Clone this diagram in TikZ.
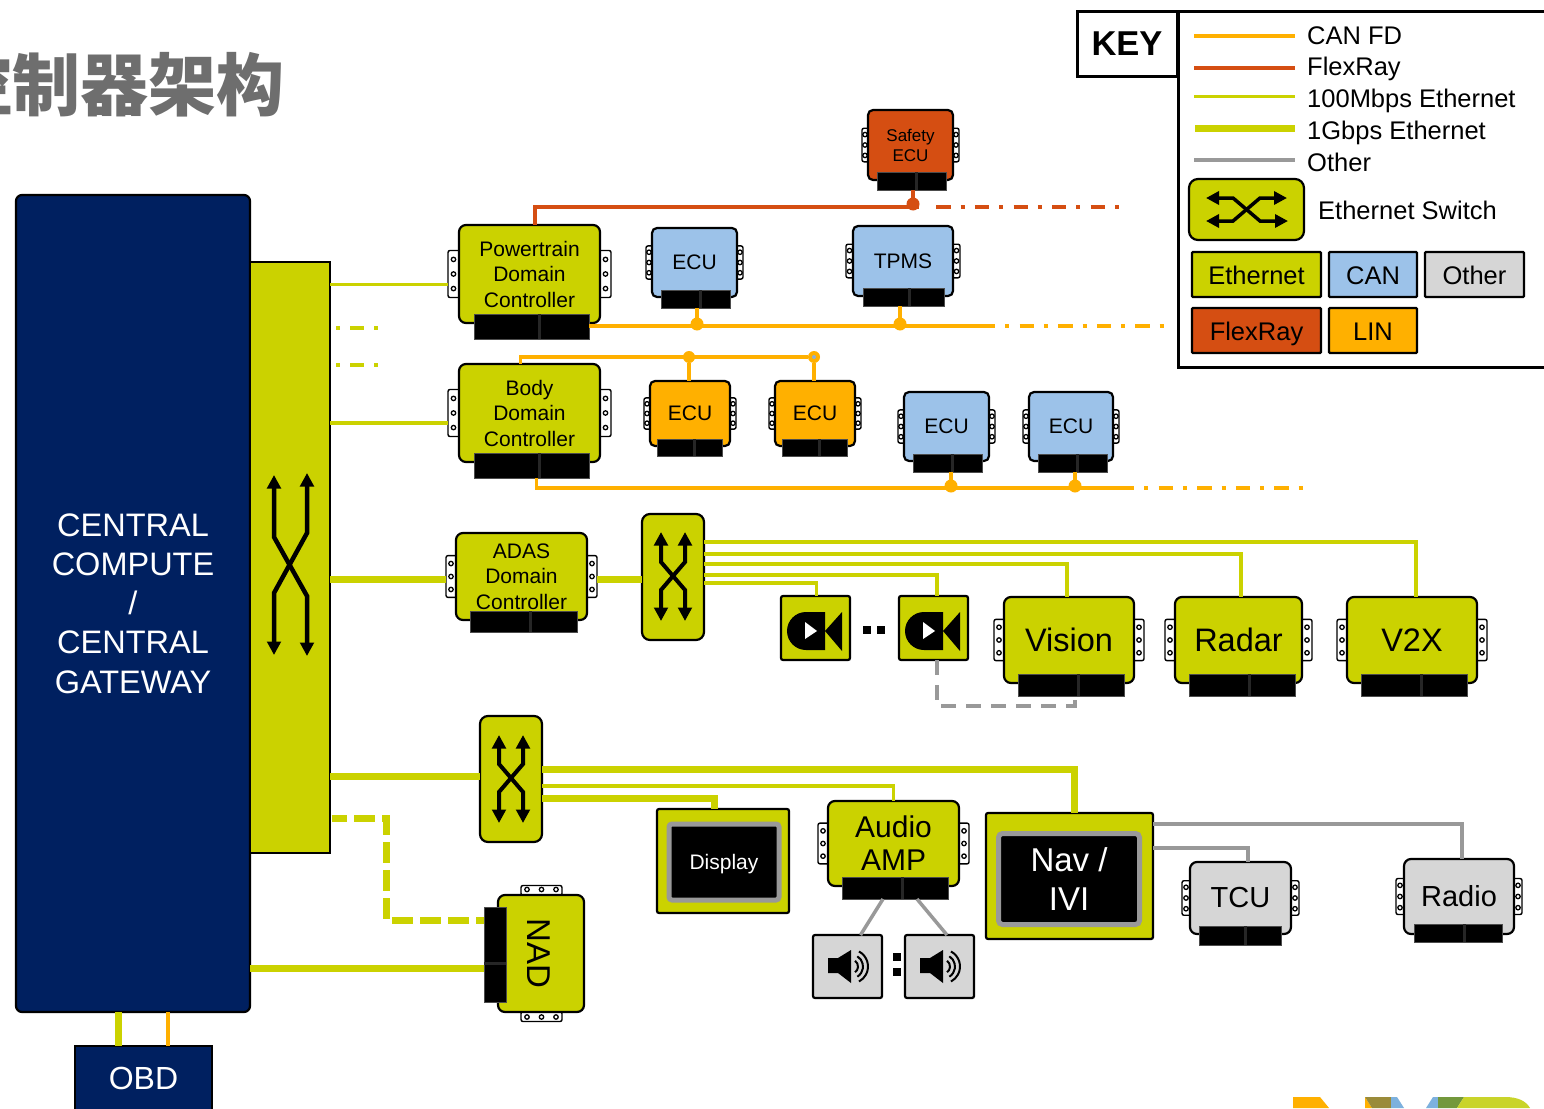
\documentclass[tikz,border=0pt]{standalone}
\usepackage{fontspec}
\setmainfont{Liberation Sans}
\newfontfamily\cjkfont{Noto Sans CJK SC}
\usetikzlibrary{arrows.meta,calc}
\definecolor{lime}{HTML}{CBD200}
\definecolor{canfd}{HTML}{FFB000}
\definecolor{flex}{HTML}{D54E12}
\definecolor{canblue}{HTML}{9CC2E9}
\definecolor{lgray}{HTML}{D6D6D6}
\definecolor{wire}{HTML}{999999}
\definecolor{navy}{HTML}{002060}
\definecolor{logob}{HTML}{9A8B3A}
\definecolor{logoc}{HTML}{7DB1DE}
\definecolor{logod}{HTML}{73983C}
\definecolor{logoe}{HTML}{C9D42A}
\newcommand\fsz[2]{\fontsize{#1}{#2}\selectfont}
\tikzset{
  x=1pt,y=-1pt,
  outl/.style={draw=black,line width=2.2pt,outer sep=0pt,inner sep=0pt,align=center},
  tabbox/.style={draw=black,line width=1.4pt,fill=white,rounded corners=2pt,outer sep=0pt,inner sep=0pt},
  hole/.style={draw=black,line width=1.3pt,fill=white},
  plugbox/.style={fill=black,draw=black!70,line width=0.5pt,outer sep=0pt,inner sep=0pt},
  eth/.style={draw=lime,line width=3.5pt},
  gig/.style={draw=lime,line width=7pt},
  can/.style={draw=canfd,line width=3.8pt},
  frl/.style={draw=flex,line width=3.8pt},
  oth/.style={draw=wire,line width=3.5pt},
  dashdot/.style={dash pattern=on 14.3pt off 10pt on 4pt off 10.3pt},
  dotdash/.style={dash pattern=on 4pt off 10pt on 14.3pt off 10pt on 4pt off 100pt},
  candot/.style={circle,fill=canfd,minimum size=13pt,inner sep=0pt,outer sep=0pt},
  frdot/.style={circle,fill=flex,minimum size=13pt,inner sep=0pt,outer sep=0pt},
  legbox/.style={outl,font=\fsz{25.5}{30},text height=25pt,text depth=5.5pt},
  arrowline/.style={line width=4pt,draw=black,line join=miter,{Triangle[length=13.5pt,width=13.5pt]}-{Triangle[length=13.5pt,width=13.5pt]}},
  sq/.style={fill=black,minimum size=8pt,inner sep=0pt,outer sep=0pt},
}
% #1 name, #2-#5 x1 y1 x2 y2, #6 tab width, #7 fill, #8 style, #9 text
\newcommand\ecu[9]{%
  \pgfmathsetmacro\eW{#4-#2}\pgfmathsetmacro\eH{#5-#3}%
  \pgfmathsetmacro\eX{(#4+#2)/2}\pgfmathsetmacro\eY{(#5+#3)/2}%
  \pgfmathsetmacro\tH{0.48*\eH}\pgfmathsetmacro\tW{#6+5}%
  \pgfmathsetmacro\tL{#2-#6/2+2.5}\pgfmathsetmacro\tR{#4+#6/2-2.5}%
  \pgfmathsetmacro\hL{#2-#6/2}\pgfmathsetmacro\hR{#4+#6/2}%
  \pgfmathsetmacro\hS{0.31*\tH}%
  \node[tabbox,minimum width=\tW pt,minimum height=\tH pt] (#1-l) at (\tL,\eY) {};
  \node[tabbox,minimum width=\tW pt,minimum height=\tH pt] (#1-r) at (\tR,\eY) {};
  \foreach \k in {-1,0,1}{
    \draw[hole] (\hL,{\eY+\k*\hS}) circle[radius=2.2pt];
    \draw[hole] (\hR,{\eY+\k*\hS}) circle[radius=2.2pt];
  }
  \node[outl,rounded corners=7pt,fill=#7,minimum width=\eW pt,minimum height=\eH pt,#8] (#1) at (\eX,\eY) {#9};
}
\newcommand\plug[5]{%
  \pgfmathsetmacro\eW{#4-#2}\pgfmathsetmacro\eH{#5-#3}%
  \pgfmathsetmacro\eX{(#4+#2)/2}\pgfmathsetmacro\eY{(#5+#3)/2}%
  \node[plugbox,minimum width=\eW pt,minimum height=\eH pt] (#1-p) at (\eX,\eY) {};
  \fill[black!85] ({#2+0.57*\eW-1.5},#3) rectangle ({#2+0.57*\eW+1.5},#5);
}
% vertical switch glyph
\newcommand\vglyph[6]{%
  \draw[arrowline] (#1,#3) -- (#1,#4) -- (#2,#5) -- (#2,#6);
  \draw[arrowline] (#2,#3) -- (#2,#4) -- (#1,#5) -- (#1,#6);
}
\newcommand\cam[3]{%
  \node[outl,rounded corners=2pt,fill=lime,minimum width=69pt,minimum height=64pt] (#1) at ({#2+34.5},{#3+32}) {};
  \begin{scope}[shift={(#2,#3)}]
    \fill[black] (44,16) -- (25,16) .. controls (14.5,16) and (6,24.5) .. (6,35) .. controls (6,45.5) and (14.5,54) .. (25,54) -- (44,54) -- cycle;
    \fill[black] (44,35) -- (61,16) -- (61,55) -- cycle;
    \fill[white] (24,26) -- (24,43) -- (36,35) -- cycle;
  \end{scope}
}
\newcommand\spk[3]{%
  \node[outl,rounded corners=2pt,fill=lgray,minimum width=69pt,minimum height=63pt] (#1) at ({#2+34.5},{#3+31.5}) {};
  \begin{scope}[shift={(#2,#3)}]
    \fill[black] (15,23) -- (25,23) -- (38,15) -- (38,48) -- (25,38) -- (15,38) -- cycle;
    \draw[line width=2pt,black] (38,31.5) ++(-55:7) arc[start angle=-55,end angle=55,radius=7];
    \draw[line width=2pt,black] (38,31.5) ++(-58:12) arc[start angle=-58,end angle=58,radius=12];
    \draw[line width=2pt,black] (38,31.5) ++(-62:17) arc[start angle=-62,end angle=62,radius=17];
  \end{scope}
}
\begin{document}
\begin{tikzpicture}
\useasboundingbox (0,0) rectangle (1544,1108);
\fill[white] (0,0) rectangle (1544,1108);

% title
\node[anchor=east,text=black!57,inner sep=0pt,font=\cjkfont\bfseries\fsz{68}{72}] (title) at (285,85) {控制器架构};

% central
\node[outl,rounded corners=6pt,fill=navy,text=white,minimum width=234pt,minimum height=817pt,font=\fsz{32.5}{39.3}] (cc) at (133,603.5) {CENTRAL\\COMPUTE\\/\\CENTRAL\\GATEWAY};
\node[outl,fill=lime,minimum width=80pt,minimum height=591pt] (bigsw) at (290,557.5) {};
\draw[arrowline,line width=4.5pt] (274,475) -- (274,537) -- (307,596) -- (307,656);
\draw[arrowline,line width=4.5pt] (307,473) -- (307,533) -- (274,593) -- (274,655);
\node[outl,fill=navy,text=white,minimum width=137pt,minimum height=70pt,font=\fsz{32}{38}] (obd) at (143.5,1081) {\raisebox{6pt}{OBD}};
\draw[gig] (118,1012) -- (118,1046);
\draw[can,line width=3.5pt] (168,1012) -- (168,1046);

% KEY
\node[outl,line width=3pt,minimum width=100pt,minimum height=64pt,font=\bfseries\fsz{34.5}{40}] (key) at (1127,44) {KEY};
\node[outl,line width=3pt,minimum width=400pt,minimum height=355pt] (keybox) at (1378,189.5) {};
\draw[canfd,line width=4pt] (1194,36) -- (1295,36);
\draw[flex,line width=4pt] (1194,68) -- (1295,68);
\draw[lime,line width=3pt] (1194,96.5) -- (1295,96.5);
\draw[lime,line width=7pt] (1195,128) -- (1295,128);
\draw[wire,line width=4pt] (1194,160) -- (1295,160);
\tikzset{legt/.style={anchor=base west,inner sep=0pt,font=\fsz{25.5}{30}}}
\node[legt] (l1) at (1307,45) {CAN FD};
\node[legt] (l2) at (1307,75) {FlexRay};
\node[legt] (l3) at (1307,107.5) {100Mbps Ethernet};
\node[legt] (l4) at (1307,139) {1Gbps Ethernet};
\node[legt] (l5) at (1307,171.5) {Other};
\node[outl,rounded corners=9pt,fill=lime,minimum width=115pt,minimum height=61pt] (keysw) at (1246.5,209.5) {};
\draw[arrowline,line width=3.5pt,{Triangle[length=13pt,width=13pt]}-{Triangle[length=13pt,width=13pt]}] (1206,198) -- (1233,198) -- (1260,221) -- (1288,221);
\draw[arrowline,line width=3.5pt,{Triangle[length=13pt,width=13pt]}-{Triangle[length=13pt,width=13pt]}] (1206,221) -- (1233,221) -- (1260,198) -- (1287,198);
\node[legt] (l6) at (1318,219.5) {Ethernet Switch};
\node[legbox,rounded corners=1pt,fill=lime,minimum width=129pt,minimum height=45pt] (k1) at (1256.5,274.5) {Ethernet};
\node[legbox,rounded corners=1pt,fill=canblue,minimum width=88pt,minimum height=45pt] (k2) at (1373,274.5) {CAN};
\node[legbox,rounded corners=1pt,fill=lgray,minimum width=99pt,minimum height=45pt] (k3) at (1474.5,274.5) {Other};
\node[legbox,rounded corners=1pt,fill=flex,minimum width=129pt,minimum height=45pt] (k4) at (1256.5,330.5) {FlexRay};
\node[legbox,rounded corners=1pt,fill=canfd,minimum width=88pt,minimum height=45pt] (k5) at (1373,330.5) {LIN};

% ECUs row 1
\tikzset{t21/.style={font=\fsz{21}{25.5}}}
\ecu{saf}{868}{110}{953}{180}{6}{flex}{rounded corners=5pt,font=\fsz{17}{20}}{Safety\\ECU}
\plug{saf}{877}{172}{946}{190}
\ecu{pt}{459}{225}{600}{323}{11}{lime}{t21}{Powertrain\\Domain\\Controller}
\plug{pt}{474}{314}{589}{339}
\ecu{e1}{652}{228}{737}{297}{6}{canblue}{rounded corners=5pt,t21}{ECU}
\plug{e1}{661}{290}{730}{308}
\ecu{tp}{853}{226}{953}{296}{7}{canblue}{rounded corners=5pt,t21}{TPMS}
\plug{tp}{863}{288}{944}{306}
% row 2
\ecu{bd}{459}{364}{600}{462}{11}{lime}{t21}{Body\\Domain\\Controller}
\plug{bd}{474}{453}{589}{478}
\ecu{o1}{650}{381}{730}{446}{6}{canfd}{rounded corners=5pt,t21}{ECU}
\plug{o1}{657}{439}{722}{456}
\ecu{o2}{775}{381}{855}{446}{6}{canfd}{rounded corners=5pt,t21}{ECU}
\plug{o2}{782}{439}{847}{456}
\ecu{b1}{904}{392}{989}{461}{6}{canblue}{rounded corners=5pt,t21}{ECU}
\plug{b1}{913}{454}{982}{472}
\ecu{b2}{1029}{392}{1113}{461}{6}{canblue}{rounded corners=5pt,t21}{ECU}
\plug{b2}{1038}{454}{1107}{472}
% row 3
\ecu{ad}{456}{533}{587}{620}{10}{lime}{t21}{ADAS\\Domain\\Controller}
\plug{ad}{470}{611}{577}{632}
\node[outl,rounded corners=8pt,fill=lime,minimum width=62pt,minimum height=126pt] (sw2) at (673,577) {};
\vglyph{661}{685}{532}{562}{590}{621}
\cam{c1}{781}{596}
\cam{c2}{899}{596}
\node[sq] (s1) at (867,630) {};
\node[sq] (s2) at (881,630) {};
\ecu{vi}{1004}{597}{1134}{683}{10}{lime}{font=\fsz{32.5}{39}}{Vision}
\plug{vi}{1018}{674}{1124}{696}
\ecu{ra}{1175}{597}{1302}{683}{10}{lime}{font=\fsz{32.5}{39}}{Radar}
\plug{ra}{1189}{674}{1295}{696}
\ecu{vx}{1347}{597}{1477}{683}{10}{lime}{font=\fsz{32.5}{39}}{V2X}
\plug{vx}{1361}{674}{1467}{696}
% row 4
\node[outl,rounded corners=8pt,fill=lime,minimum width=62pt,minimum height=126pt] (sw3) at (511,779) {};
\vglyph{499}{523}{735}{764}{792}{823}
\node[outl,rounded corners=2pt,fill=lime,minimum width=132pt,minimum height=104pt] (disp) at (723,861) {};
\node[draw=wire,line width=5pt,fill=black,rounded corners=3pt,text=white,inner sep=0pt,minimum width=110pt,minimum height=76pt,font=\fsz{21}{25},text depth=0pt] (dispin) at (724,862) {Display};
\ecu{au}{828}{801}{959}{886}{10}{lime}{font=\fsz{30}{33}}{Audio\\AMP}
\plug{au}{842}{877}{948}{899}
\spk{sp1}{813}{935}
\spk{sp2}{905}{935}
\node[sq] (s3) at (897,957) {};
\node[sq] (s4) at (897,972) {};
\node[outl,rounded corners=2pt,fill=lime,minimum width=167pt,minimum height=126pt] (nav) at (1069.5,876) {};
\node[draw=wire,line width=5pt,fill=black,rounded corners=4pt,text=white,inner sep=0pt,minimum width=141pt,minimum height=91pt,font=\fsz{33}{39},align=center] (navin) at (1069,879) {Nav /\\IVI};
\ecu{tc}{1190}{862}{1291}{934}{8}{lgray}{font=\fsz{29}{34}}{TCU}
\plug{tc}{1199}{926}{1281}{945}
\ecu{rd}{1404}{859}{1514}{934}{8}{lgray}{font=\fsz{29}{34}}{Radio}
\plug{rd}{1414}{924}{1502}{942}
% NAD
\foreach \nn/\yy/\yh in {nadt/890.5/889.5,nadb/1016.5/1017}{
  \node[tabbox,minimum width=41pt,minimum height=10pt] (\nn) at (541.5,\yy) {};
  \foreach \xx in {527,541.5,556} \draw[hole] (\xx,\yh) circle[radius=2.2pt];
}
\node[outl,rounded corners=7pt,fill=lime,minimum width=86pt,minimum height=117pt] (nad) at (541,953.5) {};
\node[rotate=-90,inner sep=0pt,font=\fsz{33}{39}] (nadt2) at (539,953) {NAD};
\node[plugbox,minimum width=22pt,minimum height=95pt] (nadp) at (495,954.5) {};
\fill[black!85] (484,962) rectangle (506,965);

% connectors: FlexRay
\node[frdot] (fd) at (913,204) {};
\coordinate (fr0) at (919,207);
\coordinate (frd1) at (936.3,207);
\coordinate (frd2) at (1119.5,207);
\draw[frl] (saf-p.south -| fd) -- (fd);
\draw[frl] ([xshift=5.5pt]pt.north) |- (fr0);
\draw[frl,dashdot] (frd1) -- (frd2);

% CAN FD row 1
\node[candot] (cd1) at (697,324) {};
\node[candot] (cd2) at (900,324) {};
\coordinate (can1) at (981,326);
\coordinate (can1e) at (1163.5,326);
\draw[can] (pt-p.east |- can1) -- (can1);
\draw[can,dashdot] (can1) -- (can1e);
\draw[can] (e1-p.south -| cd1) -- (cd1);
\draw[can] (tp-p.south -| cd2) -- (cd2);

% CAN FD row 2 (LIN)
\node[candot,minimum size=12pt] (cd3) at (689,357) {};
\node[candot,minimum size=12pt] (cd4) at (814,357) {};
\fill[canblue!90!black] (cd3) circle[radius=2pt];
\fill[canblue!90!black] (cd4) circle[radius=2pt];
\draw[can,line width=3.5pt] ([xshift=-9pt]bd.north) |- (cd4);
\draw[can] (o1.north -| cd3) -- (cd3);
\draw[can] (o2.north -| cd4) -- (cd4);
\node[candot] (cd5) at (951,486) {};
\node[candot] (cd6) at (1075,486) {};
\coordinate (can2) at (1120,488);
\coordinate (can2e) at (1303,488);
\draw[can] ([xshift=5pt]bd-p.south) |- (can2);
\draw[can,dashdot] (can2) -- (can2e);
\draw[can] (b1-p.south -| cd5) -- (cd5);
\draw[can] (b2-p.south -| cd6) -- (cd6);

% Ethernet from big switch
\draw[eth] ([yshift=-10.5pt]bigsw.east |- pt-l.west) -- ([yshift=-10.5pt]pt-l.west);
\draw[eth] ([yshift=-10pt]bigsw.east |- bd-l.west) -- ([yshift=-10pt]bd-l.west);
\coordinate (st1) at (336,328); \coordinate (st1e) at (379,328);
\coordinate (st2) at (336,365); \coordinate (st2e) at (379,365);
\draw[eth,line width=3.8pt,dotdash] (st1) -- (st1e);
\draw[eth,line width=3.8pt,dotdash] (st2) -- (st2e);
\draw[gig] ([yshift=-2.5pt]bigsw.east |- ad-l.west) -- ([yshift=-2.5pt]ad-l.west);
\draw[gig] ([yshift=-2.5pt]ad-r.east) -- ([yshift=-2.5pt]sw2.west |- ad-r.east);
\draw[eth] ([yshift=35pt]sw2.east) -| ([xshift=4pt]vx.north);
\draw[eth] ([yshift=23pt]sw2.east) -| ([xshift=2.5pt]ra.north);
\draw[eth] ([yshift=13pt]sw2.east) -| ([xshift=-2pt]vi.north);
\draw[eth] ([yshift=2pt]sw2.east) -| ([xshift=3.5pt]c2.north);
\draw[eth] ([yshift=-6pt]sw2.east) -| ([xshift=1pt]c1.north);
\draw[oth,dash pattern=on 15pt off 10pt] ([xshift=3.5pt]c2.south) |- (1075,706) -- ([xshift=4pt]vi-p.south);

% Row 4 connectors
\draw[gig] (bigsw.east |- sw3.west) ++(0,-3) -- (480,776);
\draw[gig] ([yshift=10pt]sw3.east) -| ([xshift=4.5pt]nav.north);
\draw[eth] ([yshift=-7pt]sw3.east) -| (au.north);
\draw[gig] ([yshift=-19pt]sw3.east) -| ([xshift=-9pt]disp.north);
\draw[oth] ([yshift=-11pt]nav.north east) -| ([xshift=3pt]rd.north);
\draw[oth] ([yshift=-35pt]nav.north east) -| ([xshift=7.5pt]tc.north);
\draw[oth] ([xshift=-12pt]au-p.south) -- ([xshift=13pt]sp1.north);
\draw[oth] ([xshift=22pt]au-p.south) -- ([xshift=7.5pt]sp2.north);

% NAD links
\coordinate (nadA) at (331.5,818);
\coordinate (nadB) at (386,818);
\draw[gig,dash pattern=on 21pt off 7pt,dash phase=5.5pt] (nadA) -- (nadB) |- (nadp.west |- 0,920);
\draw[gig] (cc.east |- 0,968) -- (nadp.west |- 0,968);

% logo strip
\fill[canfd] (1293,1097) -- (1320,1097) -- (1329,1108) -- (1293,1108) -- cycle;
\fill[canfd] (1365,1097) -- (1372,1108) -- (1365,1108) -- cycle;
\fill[logob] (1365,1097) -- (1391,1097) -- (1391,1108) -- (1372,1108) -- cycle;
\fill[logoc] (1391,1097) -- (1397,1097) -- (1404,1108) -- (1391,1108) -- cycle;
\fill[logoc] (1433,1097) -- (1438,1097) -- (1438,1108) -- (1426,1108) -- cycle;
\fill[logod] (1438,1097) -- (1464,1097) -- (1457,1108) -- (1438,1108) -- cycle;
\fill[logoe] (1464,1097) -- (1505,1097) .. controls (1518,1097) and (1526,1101) .. (1530,1108) -- (1457,1108) -- cycle;
\end{tikzpicture}
\end{document}
